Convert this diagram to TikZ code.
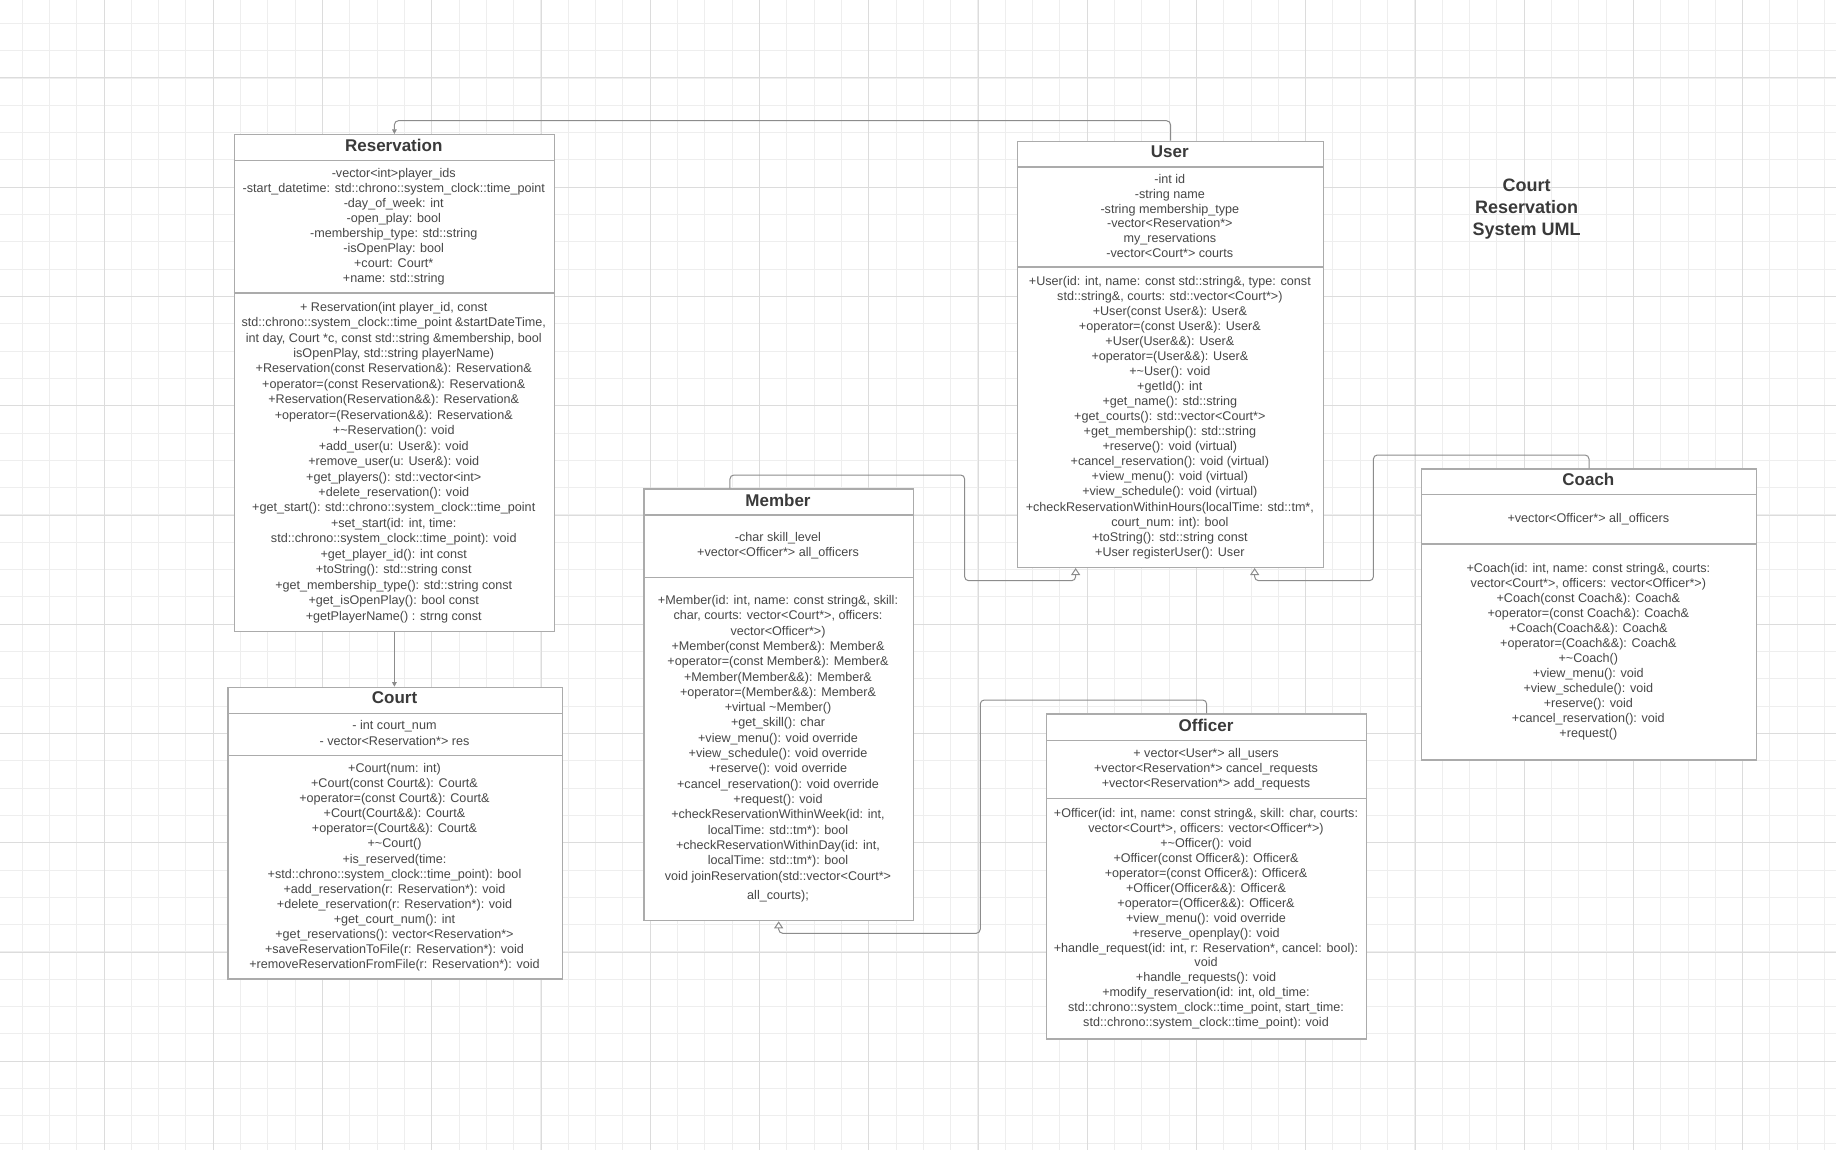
\documentclass[tikz,border=0pt]{standalone}
\usepackage{fontspec}
\setmainfont{Liberation Sans}
\usetikzlibrary{arrows.meta}
\definecolor{gridminor}{HTML}{EEEEEE}
\definecolor{gridmajor}{HTML}{DCDCDC}
\definecolor{boxline}{HTML}{ABABAB}
\definecolor{conn}{HTML}{8C8C8C}
\definecolor{txtc}{HTML}{474747}
\definecolor{ttlc}{HTML}{3A3A3A}
\begin{document}
\begin{tikzpicture}[x=1pt,y=-1pt,
 cls/.style={draw=boxline, line width=1.3pt, fill=white, anchor=north west, inner sep=0pt},
 divline/.style={draw=boxline, line width=1.3pt},
 ttl/.style={font=\bfseries\fontsize{17}{20}\selectfont, text=ttlc, anchor=base, inner sep=0pt},
 body/.style={font=\fontsize{12.6}{#1}\selectfont, text=txtc, align=center, anchor=north, inner sep=0pt},
 assoc/.style={draw=conn, line width=1pt, rounded corners=4pt, -{Triangle[length=4.5pt,width=4.5pt]}},
 inh/.style={draw=conn, line width=1pt, rounded corners=4pt, -{Triangle[length=7pt,width=9pt,fill=white]}},
 gminor/.style={draw=gridminor, line width=1pt},
 gmajor/.style={draw=gridmajor, line width=1pt},
]
\useasboundingbox (0,0) rectangle (1836,1150);
\fill[white] (0,0) rectangle (1836,1150);
% grid
\foreach \i in {0,...,66} \draw[gminor] ({22.1+27.31*\i},0) -- ({22.1+27.31*\i},1150);
\foreach \j in {0,...,41} \draw[gminor] (0,{23.4+27.31*\j}) -- (1836,{23.4+27.31*\j});
\foreach \i in {0,...,15} \draw[gmajor] ({104+109.25*\i},0) -- ({104+109.25*\i},1150);
\foreach \j in {0,...,9} \draw[gmajor] (0,{78+109.25*\j}) -- (1836,{78+109.25*\j});

% title
\node[font=\bfseries\fontsize{18}{22}\selectfont, text=ttlc, align=center, anchor=north, inner sep=0pt] (title) at (1526.7,176) {\strut Court\\Reservation\\System UML};

% Reservation
\node[cls, minimum width=320.5, minimum height=497] (res) at (233.5,134) {};
\draw[divline] ([yshift=-26.7]res.north west) -- ([yshift=-26.7]res.north east);
\draw[divline] ([yshift=-159]res.north west) -- ([yshift=-159]res.north east);
\node[ttl] (res-t) at (393.75,151.1) {Reservation};
\node[body=15.1] (res-a) at (393.75,166.3) {\strut -vector<int>player\_ids\\
-start\_datetime: std::chrono::system\_clock::time\_point\\
-day\_of\_week: int\\
-open\_play: bool\\
-membership\_type: std::string\\
-isOpenPlay: bool\\
+court: Court*\\
+name: std::string};
\node[body=15.45] (res-m) at (393.75,300.1) {\strut + Reservation(int player\_id, const\\
std::chrono::system\_clock::time\_point \&startDateTime,\\
int day, Court *c, const std::string \&membership, bool\\
isOpenPlay, std::string playerName)\\
+Reservation(const Reservation\&): Reservation\&\\
+operator=(const Reservation\&): Reservation\&\\
+Reservation(Reservation\&\&): Reservation\&\\
+operator=(Reservation\&\&): Reservation\&\\
+\textasciitilde Reservation(): void\\
+add\_user(u: User\&): void\\
+remove\_user(u: User\&): void\\
+get\_players(): std::vector<int>\\
+delete\_reservation(): void\\
+get\_start(): std::chrono::system\_clock::time\_point\\
+set\_start(id: int, time:\\
std::chrono::system\_clock::time\_point): void\\
+get\_player\_id(): int const\\
+toString(): std::string const\\
+get\_membership\_type(): std::string const\\
+get\_isOpenPlay(): bool const\\
+getPlayerName() : strng const};

% User
\node[cls, minimum width=306.3, minimum height=426] (user) at (1016.7,140.7) {};
\draw[divline] ([yshift=-26.3]user.north west) -- ([yshift=-26.3]user.north east);
\draw[divline] ([yshift=-126.3]user.north west) -- ([yshift=-126.3]user.north east);
\node[ttl] (user-t) at (1169.85,157.8) {User};
\node[body=14.7] (user-a) at (1169.85,173.2) {\strut -int id\\
-string name\\
-string membership\_type\\
-vector<Reservation*>\\
my\_reservations\\
-vector<Court*> courts};
\node[body=15.06] (user-m) at (1169.85,274.4) {\strut +User(id: int, name: const std::string\&, type: const\\
std::string\&, courts: std::vector<Court*>)\\
+User(const User\&): User\&\\
+operator=(const User\&): User\&\\
+User(User\&\&): User\&\\
+operator=(User\&\&): User\&\\
+\textasciitilde User(): void\\
+getId(): int\\
+get\_name(): std::string\\
+get\_courts(): std::vector<Court*>\\
+get\_membership(): std::string\\
+reserve(): void (virtual)\\
+cancel\_reservation(): void (virtual)\\
+view\_menu(): void (virtual)\\
+view\_schedule(): void (virtual)\\
+checkReservationWithinHours(localTime: std::tm*,\\
court\_num: int): bool\\
+toString(): std::string const\\
+User registerUser(): User};

% Member
\node[cls, minimum width=269.4, minimum height=431.7] (mem) at (643.3,488.3) {};
\draw[divline] ([yshift=-26.7]mem.north west) -- ([yshift=-26.7]mem.north east);
\draw[divline] ([yshift=-89]mem.north west) -- ([yshift=-89]mem.north east);
\node[ttl] (mem-t) at (778,506.1) {Member};
\node[body=15] (mem-a) at (778,530.4) {\strut -char skill\_level\\
+vector<Officer*> all\_officers};
\node[body=15.32] (mem-m) at (778,593.5) {\strut +Member(id: int, name: const string\&, skill:\\
char, courts: vector<Court*>, officers:\\
vector<Officer*>)\\
+Member(const Member\&): Member\&\\
+operator=(const Member\&): Member\&\\
+Member(Member\&\&): Member\&\\
+operator=(Member\&\&): Member\&\\
+virtual \textasciitilde Member()\\
+get\_skill(): char\\
+view\_menu(): void override\\
+view\_schedule(): void override\\
+reserve(): void override\\
+cancel\_reservation(): void override\\
+request(): void\\
+checkReservationWithinWeek(id: int,\\
localTime: std::tm*): bool\\
+checkReservationWithinDay(id: int,\\
localTime: std::tm*): bool\\
void joinReservation(std::vector<Court*>\\[4pt]
all\_courts);};

% Court
\node[cls, minimum width=334.4, minimum height=291.6] (court) at (227.3,686.7) {};
\draw[divline] ([yshift=-26.6]court.north west) -- ([yshift=-26.6]court.north east);
\draw[divline] ([yshift=-68.6]court.north west) -- ([yshift=-68.6]court.north east);
\node[ttl] (court-t) at (394.5,703.4) {Court};
\node[body=15.7] (court-a) at (394.5,718.2) {\strut - int court\_num\\
- vector<Reservation*> res};
\node[body=15.05] (court-m) at (394.5,762) {\strut +Court(num: int)\\
+Court(const Court\&): Court\&\\
+operator=(const Court\&): Court\&\\
+Court(Court\&\&): Court\&\\
+operator=(Court\&\&): Court\&\\
+\textasciitilde Court()\\
+is\_reserved(time:\\
+std::chrono::system\_clock::time\_point): bool\\
+add\_reservation(r: Reservation*): void\\
+delete\_reservation(r: Reservation*): void\\
+get\_court\_num(): int\\
+get\_reservations(): vector<Reservation*>\\
+saveReservationToFile(r: Reservation*): void\\
+removeReservationFromFile(r: Reservation*): void};

% Coach
\node[cls, minimum width=334.7, minimum height=291] (coach) at (1421,468.3) {};
\draw[divline] ([yshift=-26]coach.north west) -- ([yshift=-26]coach.north east);
\draw[divline] ([yshift=-75.7]coach.north west) -- ([yshift=-75.7]coach.north east);
\node[ttl] (coach-t) at (1588.35,485.4) {Coach};
\node[body=15] (coach-a) at (1588.35,511.4) {\strut +vector<Officer*> all\_officers};
\node[body=15.05] (coach-m) at (1588.35,561.4) {\strut +Coach(id: int, name: const string\&, courts:\\
vector<Court*>, officers: vector<Officer*>)\\
+Coach(const Coach\&): Coach\&\\
+operator=(const Coach\&): Coach\&\\
+Coach(Coach\&\&): Coach\&\\
+operator=(Coach\&\&): Coach\&\\
+\textasciitilde Coach()\\
+view\_menu(): void\\
+view\_schedule(): void\\
+reserve(): void\\
+cancel\_reservation(): void\\
+request()};

% Officer
\node[cls, minimum width=320, minimum height=325] (off) at (1046,713.3) {};
\draw[divline] ([yshift=-27.4]off.north west) -- ([yshift=-27.4]off.north east);
\draw[divline] ([yshift=-85]off.north west) -- ([yshift=-85]off.north east);
\node[ttl] (off-t) at (1206,731.1) {Officer};
\node[body=15.3] (off-a) at (1206,746.2) {\strut + vector<User*> all\_users\\
+vector<Reservation*> cancel\_requests\\
+vector<Reservation*> add\_requests};
\node[body=14.93] (off-m) at (1206,807) {\strut +Officer(id: int, name: const string\&, skill: char, courts:\\
vector<Court*>, officers: vector<Officer*>)\\
+\textasciitilde Officer(): void\\
+Officer(const Officer\&): Officer\&\\
+operator=(const Officer\&): Officer\&\\
+Officer(Officer\&\&): Officer\&\\
+operator=(Officer\&\&): Officer\&\\
+view\_menu(): void override\\
+reserve\_openplay(): void\\
+handle\_request(id: int, r: Reservation*, cancel: bool):\\
void\\
+handle\_requests(): void\\
+modify\_reservation(id: int, old\_time:\\
std::chrono::system\_clock::time\_point, start\_time:\\
std::chrono::system\_clock::time\_point): void};

% connectors
\draw[assoc] (user.north) -- ++(0,-20) -| (res.north);
\draw[assoc] (res.south) -- (res.south |- court.north);
\draw[inh] ([xshift=-48.7]mem.north) -- ++(0,-13.3) -| ++(234.7,105.7) -| ([xshift=-94.85]user.south);
\draw[inh] (coach.north) -- ++(0,-13.3) -| ++(-215.6,125.7) -| ([xshift=84.15]user.south);
\draw[inh] (off.north) -- ++(0,-13.3) -| ++(-226.4,233.3) -| (mem.south);
\end{tikzpicture}
\end{document}
